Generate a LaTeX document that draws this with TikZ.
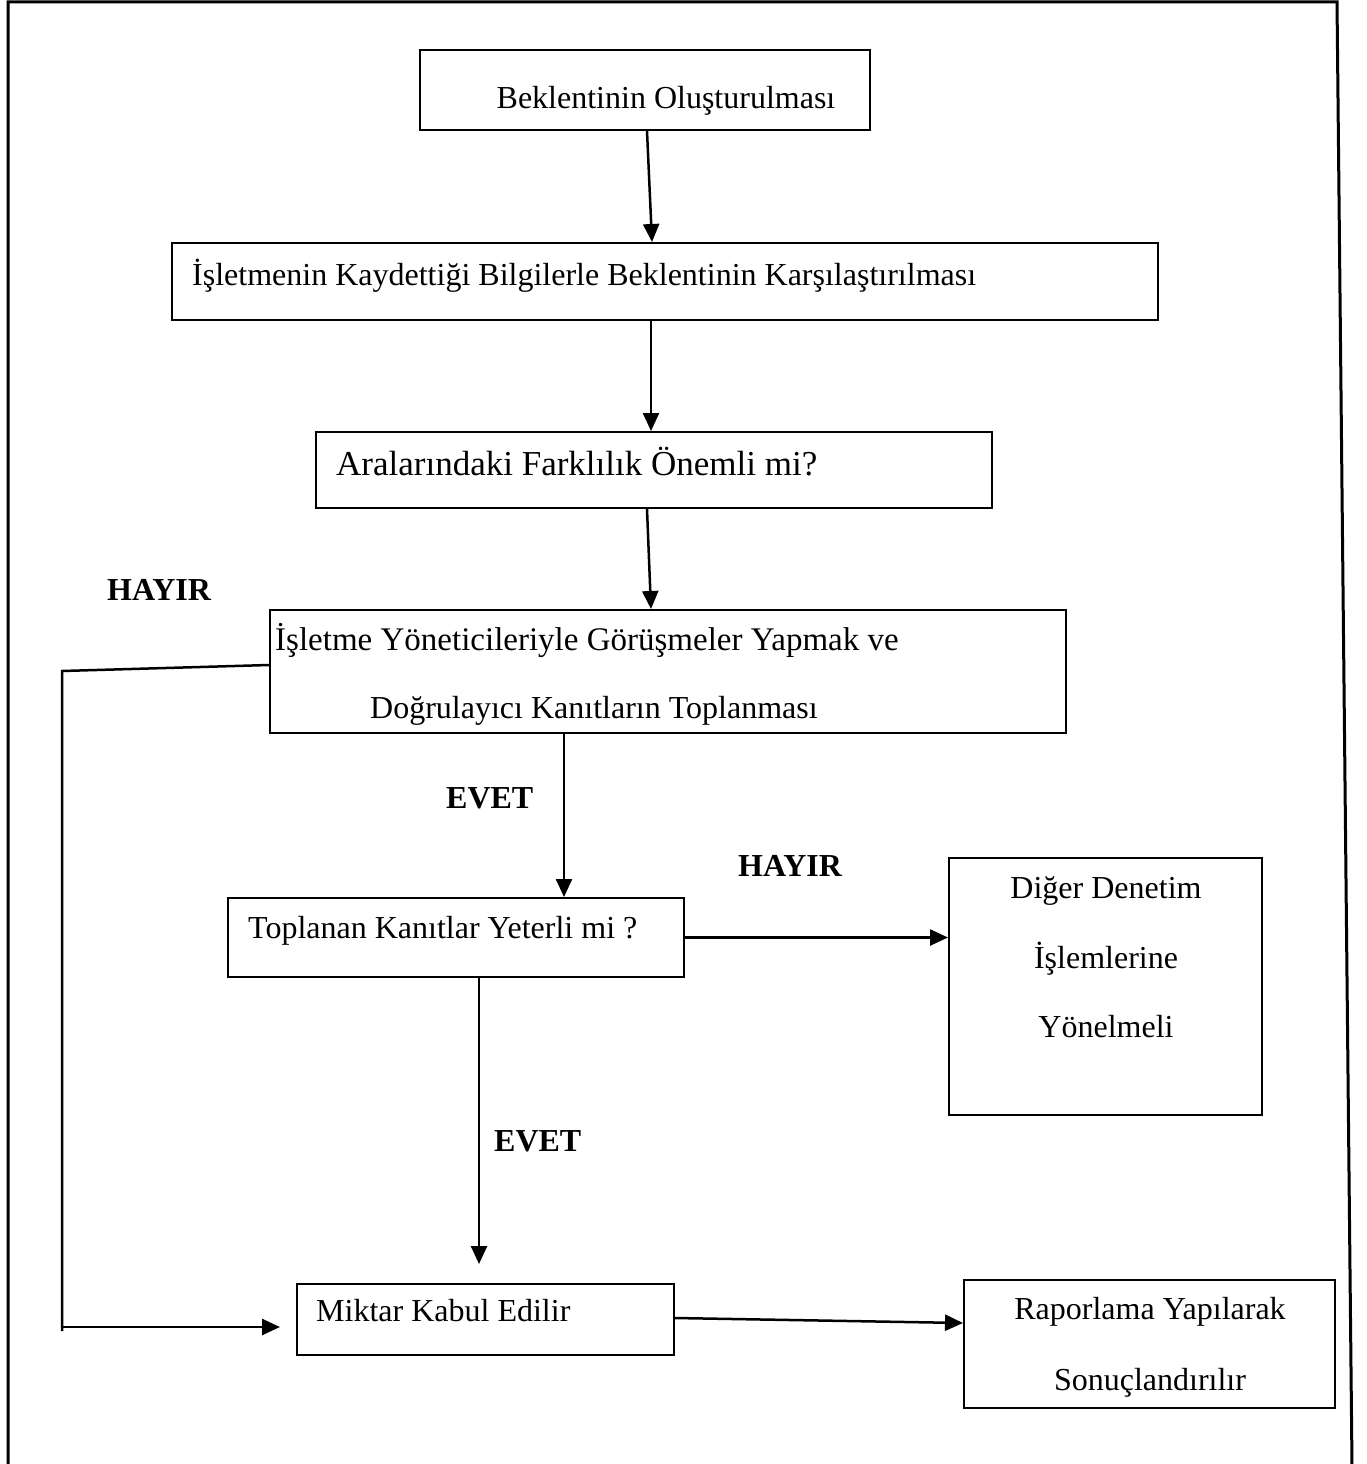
\documentclass[tikz,border=0pt]{standalone}
\usepackage{fontspec}
\setmainfont{Liberation Serif}
\usetikzlibrary{arrows.meta,calc}
\begin{document}
\begin{tikzpicture}[x=1pt,y=-1pt,
 box/.style={draw,line width=2pt,inner sep=0pt},
 txt/.style={inner sep=0pt,anchor=base west,font=\fontsize{32}{38}\selectfont},
 ctxt/.style={inner sep=0pt,anchor=base,font=\fontsize{32}{38}\selectfont},
 lbl/.style={inner sep=0pt,anchor=base west,font=\fontsize{32}{38}\selectfont\bfseries},
 arr/.style={line width=2.5pt,-{Triangle[length=18pt,width=16pt]}},
 ln/.style={line width=2.5pt}]
\useasboundingbox (0,0) rectangle (1367,1464);
% frame
\draw[line width=3pt] (8,1466) -- (8,2) -- (1337,2) -- (1352,1466);
% boxes
\node[box,minimum width=450pt,minimum height=80pt] (b1) at (645,90) {};
\node[box,minimum width=986pt,minimum height=77pt] (b2) at (665,281.5) {};
\node[box,minimum width=676pt,minimum height=76pt] (b3) at (654,470) {};
\node[box,minimum width=796pt,minimum height=123pt] (b4) at (668,671.5) {};
\node[box,minimum width=456pt,minimum height=79pt] (b5) at (456,937.5) {};
\node[box,minimum width=313pt,minimum height=257pt] (b6) at (1105.5,986.5) {};
\node[box,minimum width=377pt,minimum height=71pt] (b7) at (485.5,1319.5) {};
\node[box,minimum width=371pt,minimum height=128pt] (b8) at (1149.5,1344) {};
% texts
\node[ctxt] (t1) at (666,108) {Beklentinin Oluşturulması};
\node[txt] (t2) at (192,285) {İşletmenin Kaydettiği Bilgilerle Beklentinin Karşılaştırılması};
\node[txt,font=\fontsize{35}{40}\selectfont] (t3) at (336,475) {Aralarındaki Farklılık Önemli mi?};
\node[txt,font=\fontsize{33}{38}\selectfont] (t4a) at (275,650) {İşletme Yöneticileriyle Görüşmeler Yapmak ve};
\node[txt] (t4b) at (370,718) {Doğrulayıcı Kanıtların Toplanması};
\node[txt] (t5) at (248,938) {Toplanan Kanıtlar Yeterli mi ?};
\node[ctxt] (t6a) at (1106,898) {Diğer Denetim};
\node[ctxt] (t6b) at (1106,968) {İşlemlerine};
\node[ctxt] (t6c) at (1106,1037) {Yönelmeli};
\node[txt] (t7) at (316,1321) {Miktar Kabul Edilir};
\node[ctxt] (t8a) at (1150,1319) {Raporlama Yapılarak};
\node[ctxt] (t8b) at (1150,1390) {Sonuçlandırılır};
% labels
\node[lbl] (h1) at (107,600) {HAYIR};
\node[lbl] (e1) at (446,808) {EVET};
\node[lbl] (h2) at (738,876) {HAYIR};
\node[lbl] (e2) at (494,1151) {EVET};
% connectors
\draw[arr] ([xshift=2pt]b1.south) -- ([xshift=-13pt]b2.north);
\draw[arr] ([xshift=-14pt]b2.south) -- ([xshift=-3pt]b3.north);
\draw[arr] ([xshift=-7pt]b3.south) -- ([xshift=-17pt]b4.north);
\draw[arr] ([xshift=-104pt]b4.south) -- ([xshift=108pt]b5.north);
\draw[arr] (b5.east) -- (b5.east -| b6.west);
\draw[arr,shorten >=19pt] ([xshift=23pt]b5.south) -- ([xshift=23pt]b5.south |- b7.north);
\coordinate (L1) at (62,671);
\coordinate (L2) at (62,1331);
\coordinate (L3) at (62,1327);
\draw[ln] ([yshift=6.5pt]b4.west) -- (L1) -- (L2);
\draw[arr,shorten >=16pt] (L3) -- (L3 -| b7.west);
\draw[arr] ([yshift=1.5pt]b7.east) -- ([yshift=21pt]b8.west);
\end{tikzpicture}
\end{document}
